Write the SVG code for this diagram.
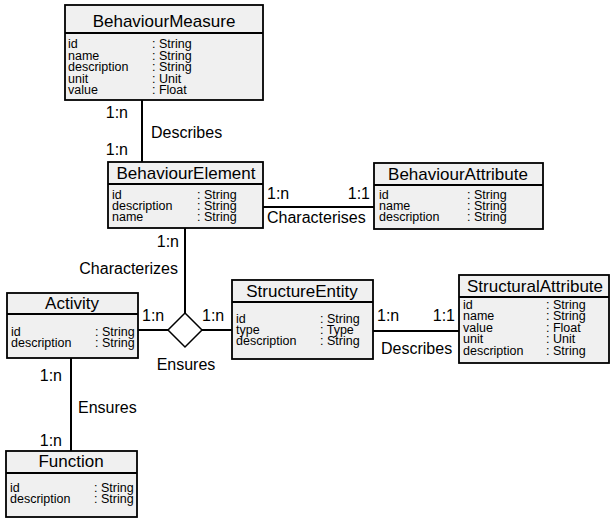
<svg xmlns="http://www.w3.org/2000/svg" width="610" height="519" viewBox="0 0 610 519">
<style>
  .box { fill: #f0f0f0; stroke: #000; stroke-width: 1.8; }
  .sep { stroke: #000; stroke-width: 2; }
  .title { font-family: "Liberation Sans", Arial, sans-serif; font-size: 17px; fill: #000; text-anchor: middle; }
  .attr { font-family: "Liberation Sans", Arial, sans-serif; font-size: 12.5px; fill: #000; }
  .lbl { font-family: "Liberation Sans", Arial, sans-serif; font-size: 16px; fill: #000; }
  .end { text-anchor: end; }
  .mid { text-anchor: middle; }
  .conn { stroke: #000; stroke-width: 2; fill: none; }
</style>
<rect width="610" height="519" fill="#fff"/>

<g id="connectors">
  <line class="conn" x1="142" y1="100" x2="142" y2="162"/>
  <line class="conn" x1="263" y1="207" x2="374" y2="207"/>
  <line class="conn" x1="185" y1="228" x2="185" y2="313"/>
  <line class="conn" x1="138" y1="330" x2="168" y2="330"/>
  <line class="conn" x1="202" y1="330" x2="232" y2="330"/>
  <line class="conn" x1="373" y1="331" x2="459" y2="331"/>
  <line class="conn" x1="71" y1="358" x2="71" y2="451"/>
  <polygon id="ensures-diamond" points="185,313 202,330 185,347 168,330" fill="#fff" stroke="#000" stroke-width="1.5"/>
  <text class="lbl end" x="128" y="118">1:n</text>
  <text class="lbl end" x="128" y="155">1:n</text>
  <text class="lbl" x="151" y="138">Describes</text>
  <text class="lbl" x="267" y="199">1:n</text>
  <text class="lbl end" x="370" y="199">1:1</text>
  <text class="lbl" x="267" y="223">Characterises</text>
  <text class="lbl end" x="179" y="247">1:n</text>
  <text class="lbl end" x="178" y="274">Characterizes</text>
  <text class="lbl" x="142" y="321">1:n</text>
  <text class="lbl" x="202" y="321">1:n</text>
  <text class="lbl mid" x="186" y="370">Ensures</text>
  <text class="lbl" x="377" y="321">1:n</text>
  <text class="lbl end" x="455" y="321">1:1</text>
  <text class="lbl" x="381" y="354">Describes</text>
  <text class="lbl end" x="62" y="381">1:n</text>
  <text class="lbl" x="78" y="413">Ensures</text>
  <text class="lbl end" x="62" y="446">1:n</text>
</g>

<g id="BehaviourMeasure">
  <rect class="box" x="65" y="5" width="198" height="95"/>
  <line class="sep" x1="65" y1="33" x2="263" y2="33"/>
  <text class="title" x="164" y="26.5">BehaviourMeasure</text>
  <text class="attr" x="68" y="48">id</text><text class="attr" x="152" y="48">: String</text>
  <text class="attr" x="68" y="59.5">name</text><text class="attr" x="152" y="59.5">: String</text>
  <text class="attr" x="68" y="71">description</text><text class="attr" x="152" y="71">: String</text>
  <text class="attr" x="68" y="82.5">unit</text><text class="attr" x="152" y="82.5">: Unit</text>
  <text class="attr" x="68" y="94">value</text><text class="attr" x="152" y="94">: Float</text>
</g>

<g id="BehaviourElement">
  <rect class="box" x="108" y="162" width="155" height="66"/>
  <line class="sep" x1="108" y1="184" x2="263" y2="184"/>
  <text class="title" x="186" y="179">BehaviourElement</text>
  <text class="attr" x="112" y="198.5">id</text><text class="attr" x="197" y="198.5">: String</text>
  <text class="attr" x="112" y="209.8">description</text><text class="attr" x="197" y="209.8">: String</text>
  <text class="attr" x="112" y="221">name</text><text class="attr" x="197" y="221">: String</text>
</g>

<g id="BehaviourAttribute">
  <rect class="box" x="374" y="163" width="169" height="66"/>
  <line class="sep" x1="374" y1="185" x2="543" y2="185"/>
  <text class="title" x="458" y="180">BehaviourAttribute</text>
  <text class="attr" x="379" y="198.5">id</text><text class="attr" x="467" y="198.5">: String</text>
  <text class="attr" x="379" y="209.8">name</text><text class="attr" x="467" y="209.8">: String</text>
  <text class="attr" x="379" y="221">description</text><text class="attr" x="467" y="221">: String</text>
</g>

<g id="Activity">
  <rect class="box" x="7" y="293" width="131" height="65"/>
  <line class="sep" x1="7" y1="314" x2="138" y2="314"/>
  <text class="title" x="72" y="309">Activity</text>
  <text class="attr" x="11" y="336">id</text><text class="attr" x="95" y="336">: String</text>
  <text class="attr" x="11" y="346.5">description</text><text class="attr" x="95" y="346.5">: String</text>
</g>

<g id="StructureEntity">
  <rect class="box" x="232" y="280" width="141" height="79"/>
  <line class="sep" x1="232" y1="302" x2="373" y2="302"/>
  <text class="title" x="302" y="297">StructureEntity</text>
  <text class="attr" x="236" y="323">id</text><text class="attr" x="320" y="323">: String</text>
  <text class="attr" x="236" y="334">type</text><text class="attr" x="320" y="334">: Type</text>
  <text class="attr" x="236" y="345">description</text><text class="attr" x="320" y="345">: String</text>
</g>

<g id="StructuralAttribute">
  <rect class="box" x="459" y="275" width="150" height="88"/>
  <line class="sep" x1="459" y1="297" x2="609" y2="297"/>
  <text class="title" x="535" y="292">StructuralAttribute</text>
  <text class="attr" x="463" y="308.5">id</text><text class="attr" x="546" y="308.5">: String</text>
  <text class="attr" x="463" y="320">name</text><text class="attr" x="546" y="320">: String</text>
  <text class="attr" x="463" y="331.5">value</text><text class="attr" x="546" y="331.5">: Float</text>
  <text class="attr" x="463" y="343">unit</text><text class="attr" x="546" y="343">: Unit</text>
  <text class="attr" x="463" y="354.5">description</text><text class="attr" x="546" y="354.5">: String</text>
</g>

<g id="Function">
  <rect class="box" x="6" y="451" width="131" height="66"/>
  <line class="sep" x1="6" y1="473" x2="137" y2="473"/>
  <text class="title" x="71" y="467">Function</text>
  <text class="attr" x="10" y="492">id</text><text class="attr" x="94" y="492">: String</text>
  <text class="attr" x="10" y="503">description</text><text class="attr" x="94" y="503">: String</text>
</g>
</svg>
